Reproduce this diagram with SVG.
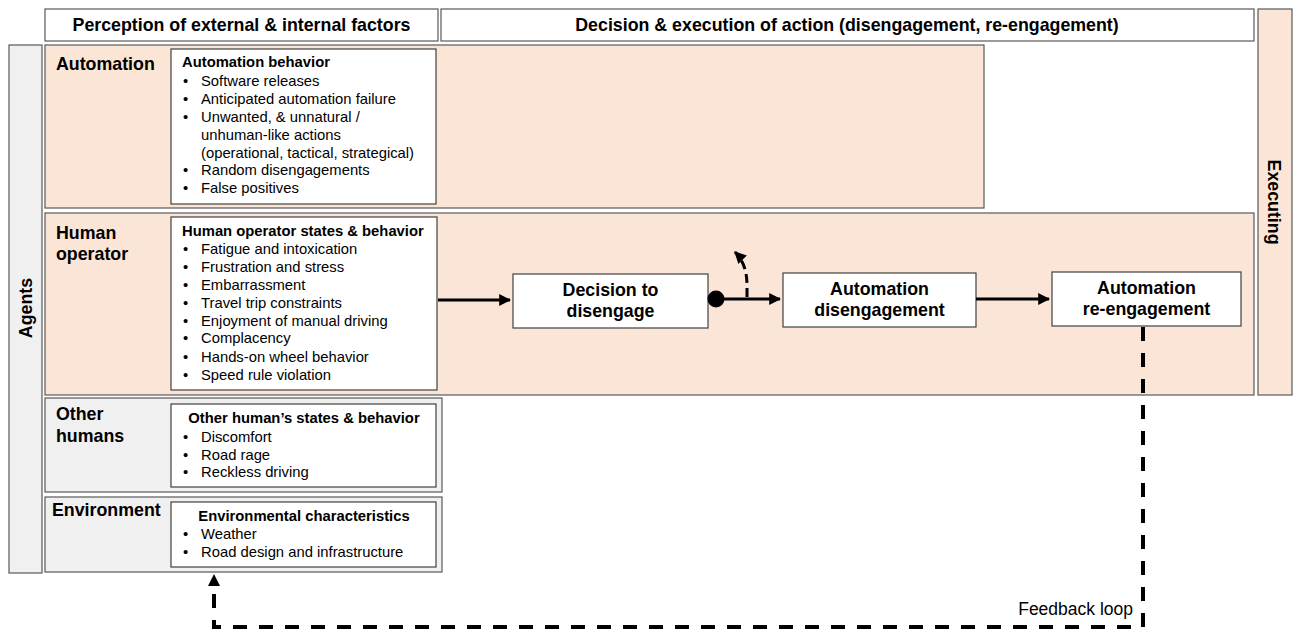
<svg xmlns="http://www.w3.org/2000/svg" width="1295" height="629" viewBox="0 0 1295 629">
<defs>
<style>
.hdr{fill:#fff;stroke:#595959;stroke-width:1.2}
.peach{fill:#fbe5d6;stroke:#595959;stroke-width:1.2}
.gray{fill:#f0f0f0;stroke:#595959;stroke-width:1.2}
.box{fill:#fff;stroke:#404040;stroke-width:1.2}
text{font-family:"Liberation Sans",Arial,sans-serif;fill:#000}
.h{font-size:17.8px;font-weight:bold}
.lab{font-size:17.8px;font-weight:bold}
.t{font-size:14.8px;font-weight:bold}
.i{font-size:14.8px}
.n{font-size:17.8px;font-weight:bold;text-anchor:middle}
.fb{font-size:17.5px}
.solid{stroke:#000;stroke-width:3;fill:none}
.dash{stroke:#000;stroke-width:4;fill:none;stroke-dasharray:14,12}
</style>
<marker id="ah" viewBox="0 0 10 10" refX="9" refY="5" markerWidth="4" markerHeight="4" orient="auto" markerUnits="strokeWidth"><path d="M0,0 L10,5 L0,10 z" fill="#000"/></marker>
</defs>
<rect width="1295" height="629" fill="#fff"/>
<g id="header-perception"><rect class="hdr" x="45" y="9" width="393" height="32"/><text class="h" x="241.5" y="31" text-anchor="middle">Perception of external &amp; internal factors</text></g>
<g id="header-decision"><rect class="hdr" x="441" y="9" width="813" height="32"/><text class="h" x="847" y="31" text-anchor="middle">Decision &amp; execution of action (disengagement, re-engagement)</text></g>
<g id="executing"><rect class="peach" x="1258" y="9" width="34" height="386"/><text class="h" transform="translate(1268,202) rotate(90)" text-anchor="middle">Executing</text></g>
<g id="agents"><rect class="gray" x="9" y="45" width="33" height="528"/><text class="h" transform="translate(32,308) rotate(-90)" text-anchor="middle">Agents</text></g>
<g id="automation-row"><rect class="peach" x="45" y="45" width="939" height="163"/><text class="lab" x="56" y="70">Automation</text>
<rect class="box" x="171" y="49" width="265" height="155"/>
<text class="t" x="182" y="67">Automation behavior</text>
<g class="i"><text x="183" y="86">•</text><text x="201" y="86">Software releases</text>
<text x="183" y="104">•</text><text x="201" y="104">Anticipated automation failure</text>
<text x="183" y="122">•</text><text x="201" y="122">Unwanted, &amp; unnatural /</text>
<text x="201" y="140">unhuman-like actions</text>
<text x="201" y="158">(operational, tactical, strategical)</text>
<text x="183" y="175">•</text><text x="201" y="175">Random disengagements</text>
<text x="183" y="193">•</text><text x="201" y="193">False positives</text></g></g>
<g id="human-row"><rect class="peach" x="45" y="213" width="1209" height="182"/><text class="lab" x="56" y="239">Human</text><text class="lab" x="56" y="260">operator</text>
<rect class="box" x="171" y="217" width="266" height="173"/>
<text class="t" x="182" y="236">Human operator states &amp; behavior</text>
<g class="i"><text x="183" y="254">•</text><text x="201" y="254">Fatigue and intoxication</text>
<text x="183" y="272">•</text><text x="201" y="272">Frustration and stress</text>
<text x="183" y="290">•</text><text x="201" y="290">Embarrassment</text>
<text x="183" y="308">•</text><text x="201" y="308">Travel trip constraints</text>
<text x="183" y="326">•</text><text x="201" y="326">Enjoyment of manual driving</text>
<text x="183" y="343">•</text><text x="201" y="343">Complacency</text>
<text x="183" y="362">•</text><text x="201" y="362">Hands-on wheel behavior</text>
<text x="183" y="380">•</text><text x="201" y="380">Speed rule violation</text></g></g>
<g id="other-humans-row"><rect class="gray" x="45" y="398" width="397" height="94"/><text class="lab" x="56" y="420">Other</text><text class="lab" x="56" y="442">humans</text>
<rect class="box" x="171" y="404" width="265" height="83"/>
<text class="t" x="304" y="423" text-anchor="middle">Other human’s states &amp; behavior</text>
<g class="i"><text x="183" y="442">•</text><text x="201" y="442">Discomfort</text>
<text x="183" y="460">•</text><text x="201" y="460">Road rage</text>
<text x="183" y="477">•</text><text x="201" y="477">Reckless driving</text></g></g>
<g id="environment-row"><rect class="gray" x="45" y="497" width="397" height="75"/><text class="lab" x="52" y="516">Environment</text>
<rect class="box" x="171" y="502" width="265" height="65"/>
<text class="t" x="304" y="521" text-anchor="middle">Environmental characteristics</text>
<g class="i"><text x="183" y="539">•</text><text x="201" y="539">Weather</text>
<text x="183" y="557">•</text><text x="201" y="557">Road design and infrastructure</text></g></g>
<g id="decision-node"><rect class="box" x="513" y="274" width="195" height="54"/><text class="n" x="610.5" y="296">Decision to</text><text class="n" x="610.5" y="317">disengage</text></g>
<g id="disengagement-node"><rect class="box" x="783" y="273" width="193" height="54"/><text class="n" x="879.5" y="295">Automation</text><text class="n" x="879.5" y="316">disengagement</text></g>
<g id="reengagement-node"><rect class="box" x="1052" y="272" width="189" height="54"/><text class="n" x="1146.5" y="294">Automation</text><text class="n" x="1146.5" y="315">re-engagement</text></g>
<g id="connectors">
<line class="solid" x1="438" y1="300" x2="510" y2="300" marker-end="url(#ah)"/>
<circle cx="716" cy="299" r="8.5" fill="#000"/>
<line class="solid" x1="722" y1="299" x2="780" y2="299" marker-end="url(#ah)"/>
<line class="solid" x1="976" y1="299" x2="1049" y2="299" marker-end="url(#ah)"/>
<path d="M747,297 L747,285 Q747,264 735,252" stroke="#000" stroke-width="3" fill="none" stroke-dasharray="9,5" marker-end="url(#ah)"/>
<path class="dash" d="M1143,327 L1143,627 L214,627 L214,585"/>
<path d="M214,574 L208,586 L220,586 z" fill="#000"/>
</g>
<text class="fb" x="1133" y="615" text-anchor="end">Feedback loop</text>
</svg>
